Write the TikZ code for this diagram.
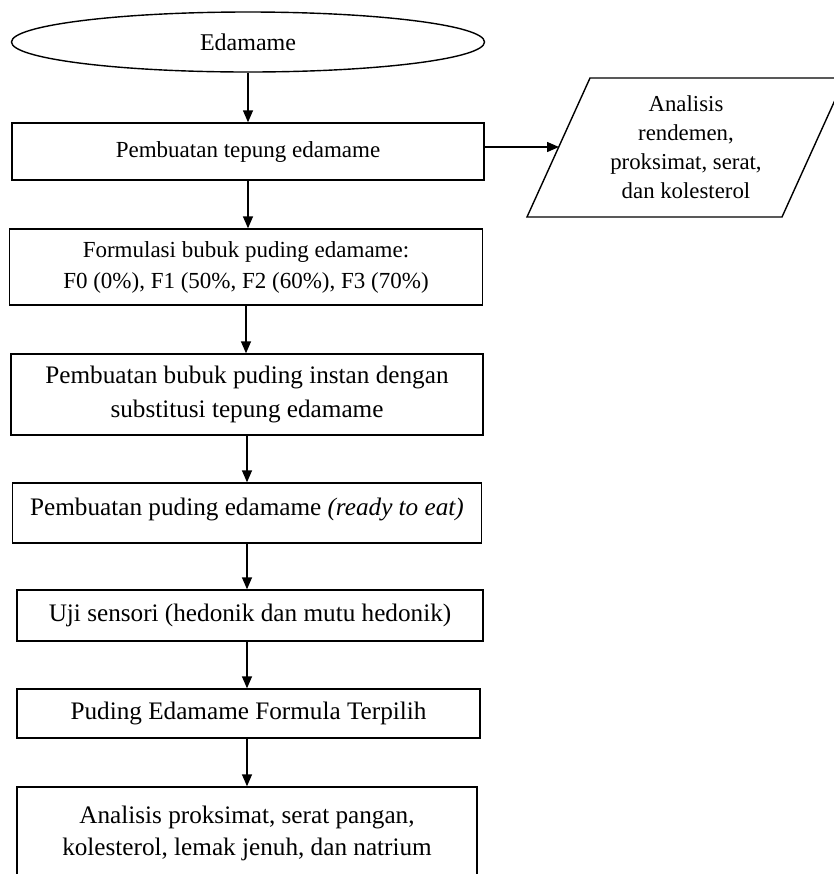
\documentclass[tikz,border=0pt]{standalone}
\usepackage{fontspec}
\setmainfont{Liberation Serif}
\usetikzlibrary{shapes.geometric,arrows.meta}

\begin{document}
\begin{tikzpicture}[x=0.5pt,y=-0.5pt]

        % Stile globale per linee, kotak dan panah
        \tikzset{
            every path/.style={line width=0.7pt},
            kotak/.style={draw, rectangle, align=center, inner sep=0pt,
                font=\fontsize{11.5}{15.5}\selectfont},
            kotakbesar/.style={kotak, font=\fontsize{12.6}{17}\selectfont},
            panah/.style={-{Triangle[length=6pt,width=5pt]}}
        }

        % Area gambar (proporsi referensi)
        \useasboundingbox (0,0) rectangle (834,874);

        % Awal alur
        \node[draw, ellipse, minimum width=236.5pt, minimum height=30pt,
            inner sep=0pt, font=\fontsize{12}{16}\selectfont] (edamame) at (248,42) {Edamame};

        % Langkah-langkah proses
        \node[kotak, minimum width=236pt, minimum height=28.5pt] (tepung) at (248,151.5)
            {Pembuatan tepung edamame};
        \node[kotak, minimum width=236.5pt, minimum height=38pt] (formulasi) at (246,267)
            {Formulasi bubuk puding edamame:\\F0 (0\%), F1 (50\%, F2 (60\%), F3 (70\%)};
        \node[kotakbesar, minimum width=236pt, minimum height=40.5pt] (bubuk) at (247,394.5)
            {Pembuatan bubuk puding instan dengan\\substitusi tepung edamame};
        \node[kotakbesar, minimum width=234.5pt, minimum height=30pt, text depth=6.5pt] (puding) at (247,513)
            {Pembuatan puding edamame \textit{(ready to eat)}};
        \node[kotakbesar, minimum width=233pt, minimum height=25.5pt] (sensori) at (250,615.5)
            {Uji sensori (hedonik dan mutu hedonik)};
        \node[kotakbesar, minimum width=231.5pt, minimum height=24.5pt] (terpilih) at (248.5,713.5)
            {Puding Edamame Formula Terpilih};

        % Kotak terakhir (terpotong di bawah)
        \node[draw, rectangle, minimum width=230pt, minimum height=60pt,
            label={[anchor=north, align=center, yshift=-6pt,
                font=\fontsize{12.6}{16}\selectfont]north:Analisis proksimat, serat pangan,\\kolesterol, lemak jenuh, dan natrium}]
            (akhir) at (247,847) {};

        % Analisis tepung (jajaran genjang)
        \node[align=center, inner sep=0pt, font=\fontsize{11.4}{14.5}\selectfont]
            (rendemen) at (686,147.5) {Analisis\\rendemen,\\proksimat, serat,\\dan kolesterol};
        \draw (590,78) -- (845,78) -- (782,217) -- (527,217) -- cycle;
        \coordinate (masuk) at (559,147);

        % Panah
        \draw[panah] (edamame) -- (edamame |- tepung.north);
        \draw[panah] (tepung) -- (tepung |- formulasi.north);
        \draw[panah] (formulasi) -- (formulasi |- bubuk.north);
        \draw[panah] (bubuk) -- (bubuk |- puding.north);
        \draw[panah] (puding) -- (puding |- sensori.north);
        \draw[panah] (puding |- sensori.south) -- (puding |- terpilih.north);
        \draw[panah] (puding |- terpilih.south) -- (puding |- akhir.north);
        \draw[panah] (tepung.east |- masuk) -- (masuk);

    \end{tikzpicture}
\end{document}
